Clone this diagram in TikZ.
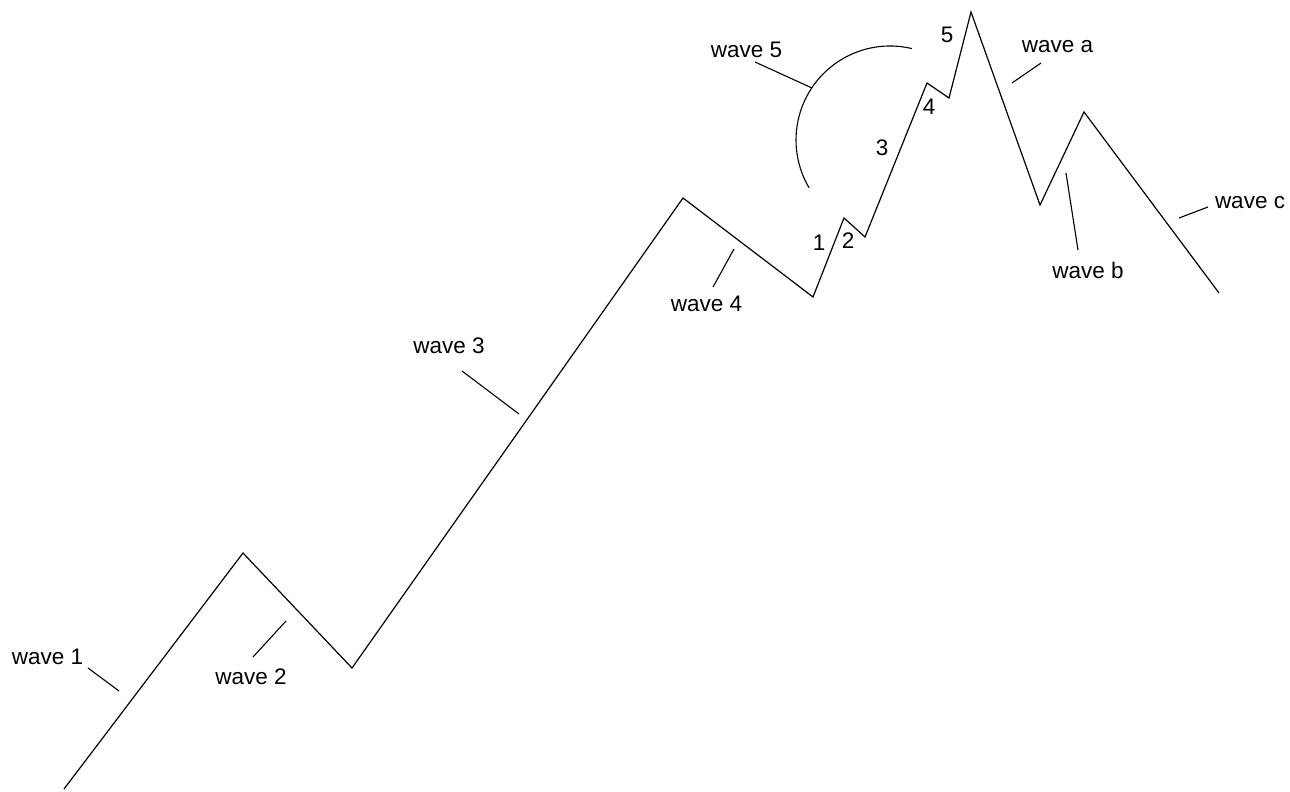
\documentclass[tikz,border=0pt]{standalone}
\usepackage{fontspec}
\setmainfont{Liberation Sans}
\begin{document}
\begin{tikzpicture}[x=1pt,y=-1pt,
  wv/.style={line width=1.2pt,line join=miter},
  lead/.style={line width=1.1pt},
  lbl/.style={inner sep=0pt,font=\fontsize{22.5}{27}\selectfont}]
\useasboundingbox[fill=white] (0,0) rectangle (1290,792);
% main wave vertices
\coordinate (s) at (64,789);
\coordinate (p1) at (243,553);
\coordinate (p2) at (352,668);
\coordinate (p3) at (683,198);
\coordinate (p4) at (813,297);
\coordinate (q1) at (844,218);
\coordinate (q2) at (865,237);
\coordinate (q3) at (927,83);
\coordinate (q4) at (949,98);
\coordinate (p5) at (971,12);
\coordinate (pa) at (1040,205);
\coordinate (pb) at (1084,112);
\coordinate (pc) at (1219,293);
\draw[wv] (s) -- (p1) -- (p2) -- (p3) -- (p4) -- (q1) -- (q2) -- (q3) -- (q4) -- (p5) -- (pa) -- (pb) -- (pc);
% labels
\node[lbl] (w1) at (47.5,657) {wave 1};
\node[lbl] (w2) at (251,677) {wave 2};
\node[lbl] (w3) at (449,346) {wave 3};
\node[lbl] (w4) at (706.5,304) {wave 4};
\node[lbl] (w5) at (746.5,50) {wave 5};
\node[lbl] (wa) at (1057.5,47) {wave a};
\node[lbl] (wb) at (1088,270) {wave b};
\node[lbl] (wc) at (1250,203) {wave c};
\node[lbl] (n1) at (819,243) {1};
\node[lbl] (n2) at (848,241) {2};
\node[lbl] (n3) at (882,148) {3};
\node[lbl] (n4) at (929,107) {4};
\node[lbl] (n5) at (947,35) {5};
% leader end points
\coordinate (l1a) at (88,668);   \coordinate (l1b) at (119,691);
\coordinate (l2a) at (253,657);  \coordinate (l2b) at (286,621);
\coordinate (l3a) at (462,371);  \coordinate (l3b) at (519,414);
\coordinate (l4a) at (713,287);  \coordinate (l4b) at (734,249);
\coordinate (l5a) at (755,62);   \coordinate (l5b) at (812,88);
\coordinate (laa) at (1041,63);  \coordinate (lab) at (1012,83);
\coordinate (lba) at (1066,173); \coordinate (lbb) at (1078,250);
\coordinate (lca) at (1179,218); \coordinate (lcb) at (1208,207);
\draw[lead] (l1a) -- (l1b);
\draw[lead] (l2a) -- (l2b);
\draw[lead] (l3a) -- (l3b);
\draw[lead] (l4a) -- (l4b);
\draw[lead] (l5a) -- (l5b);
\draw[lead] (laa) -- (lab);
\draw[lead] (lba) -- (lbb);
\draw[lead] (lca) -- (lcb);
% arc of wave 5 (centre 890,140; radius 94)
\coordinate (arcc) at (890,140);
\draw[lead] ([shift={(-76.5:94)}]arcc) arc[start angle=-76.5,end angle=-210.6,radius=94];
\end{tikzpicture}
\end{document}
